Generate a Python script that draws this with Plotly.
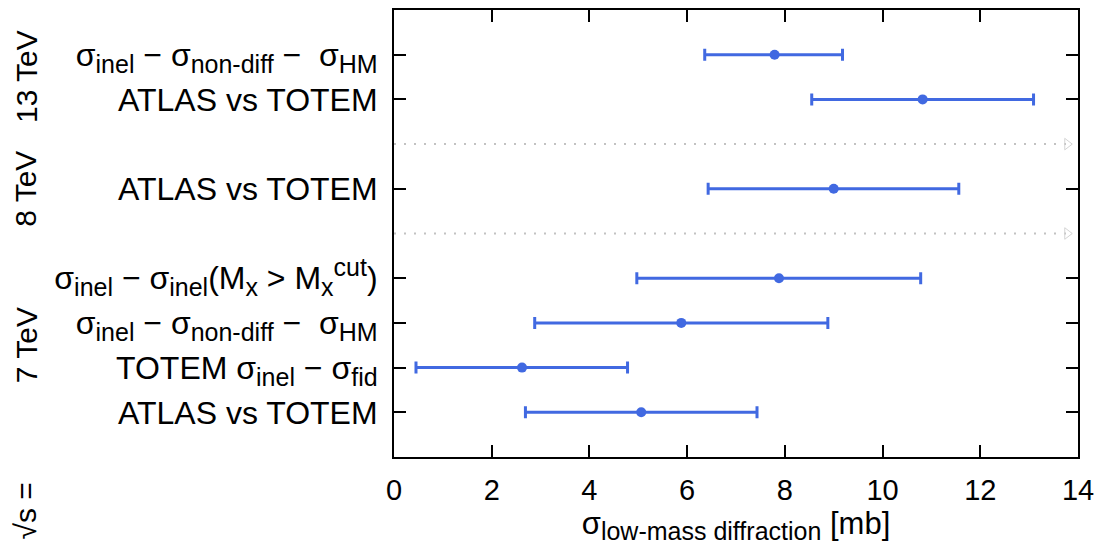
import plotly.graph_objects as go

# ---- data (bottom to top) ----
SUB = "<sub><span style='font-size:25px'>{}</span></sub>"
SUP = "<sup><span style='font-size:25px'>{}</span></sup>"
labels = [
    "ATLAS vs TOTEM",
    "TOTEM σ" + SUB.format("inel") + " − σ" + SUB.format("fid"),
    "σ" + SUB.format("inel") + " − σ" + SUB.format("non-diff") + " −\u00a0\u00a0σ" + SUB.format("HM"),
    "σ" + SUB.format("inel") + " − σ" + SUB.format("inel") + "(M" + SUB.format("x")
    + " &gt; M" + SUB.format("x") + SUP.format("cut") + ")",
    "ATLAS vs TOTEM",
    "ATLAS vs TOTEM",
    "σ" + SUB.format("inel") + " − σ" + SUB.format("non-diff") + " −\u00a0\u00a0σ" + SUB.format("HM"),
]
energies = ["7 TeV", "7 TeV", "7 TeV", "7 TeV", "8 TeV", "13 TeV", "13 TeV"]
values = [5.06, 2.62, 5.88, 7.88, 9.00, 10.82, 7.79]
err_minus = [2.37, 2.17, 3.00, 2.91, 2.57, 2.27, 1.43]
err_plus = [2.37, 2.16, 3.00, 2.90, 2.56, 2.27, 1.39]
x_ticks = [0, 2, 4, 6, 8, 10, 12, 14]
x_title = "σ" + SUB.format("low-mass diffraction") + " [mb]"

# ---- derive row positions from energy grouping (separator row between groups) ----
ypos, seps = [], []
pos = 1
for i, e in enumerate(energies):
    if i > 0 and e != energies[i - 1]:
        seps.append(pos)
        pos += 1
    ypos.append(pos)
    pos += 1
ymax = pos

groups = []
for e in dict.fromkeys(energies):
    ys = [y for y, ee in zip(ypos, energies) if ee == e]
    groups.append((e, sum(ys) / len(ys)))

BLUE = "#4169E1"
FONT = "Liberation Sans, Arial, Helvetica, sans-serif"

fig = go.Figure()

# separators (dotted, ending in a faint arrow head)
for s in seps:
    fig.add_trace(go.Scatter(
        x=[x_ticks[0], x_ticks[-1] - 0.2], y=[s, s], mode="lines",
        line=dict(color="#c2c2c2", width=2, dash="2px,8px"),
        hoverinfo="skip", showlegend=False))
    fig.add_trace(go.Scatter(
        x=[x_ticks[-1] - 0.22], y=[s], mode="markers",
        marker=dict(symbol="triangle-right-open", size=10, color="#d4d4d4",
                    line=dict(width=1, color="#d4d4d4")),
        hoverinfo="skip", showlegend=False))

fig.add_trace(go.Scatter(
    x=values, y=ypos, mode="markers",
    marker=dict(color=BLUE, size=10),
    error_x=dict(type="data", symmetric=False, array=err_plus, arrayminus=err_minus,
                 color=BLUE, thickness=3, width=6),
    showlegend=False))

axis_common = dict(showline=True, linecolor="black", linewidth=2, mirror="allticks",
                   ticks="inside", ticklen=12, tickwidth=2, tickcolor="black",
                   showgrid=False, zeroline=False)

fig.update_xaxes(range=[x_ticks[0], x_ticks[-1]], tickvals=x_ticks,
                 tickfont=dict(size=29, family=FONT, color="black"),
                 ticklabelstandoff=6,
                 title=dict(text=x_title,
                            font=dict(size=31, family=FONT, color="black"), standoff=0),
                 **axis_common)
fig.update_yaxes(range=[0, ymax], tickvals=ypos, ticktext=labels,
                 tickfont=dict(size=32, family=FONT, color="black"),
                 ticklabelstandoff=8,
                 **axis_common)

for name, yc in groups:
    fig.add_annotation(text=name, x=0, xref="paper", y=yc, yref="y", xshift=-368,
                       textangle=-90, showarrow=False, xanchor="center", yanchor="middle",
                       font=dict(size=30, family=FONT, color="black"))
fig.add_annotation(text="√s =", x=0, xref="paper", y=-0.122, yref="paper", xshift=-368,
                   textangle=-90, showarrow=False, xanchor="center", yanchor="middle",
                   font=dict(size=30, family=FONT, color="black"))

fig.update_layout(width=1108, height=551, margin=dict(l=394, r=30, t=8, b=94),
                  plot_bgcolor="white", paper_bgcolor="white",
                  font=dict(family=FONT, color="black"))

fig.write_html("out.html", config={"displayModeBar": False},
               post_script="document.body.style.margin='0px';")
